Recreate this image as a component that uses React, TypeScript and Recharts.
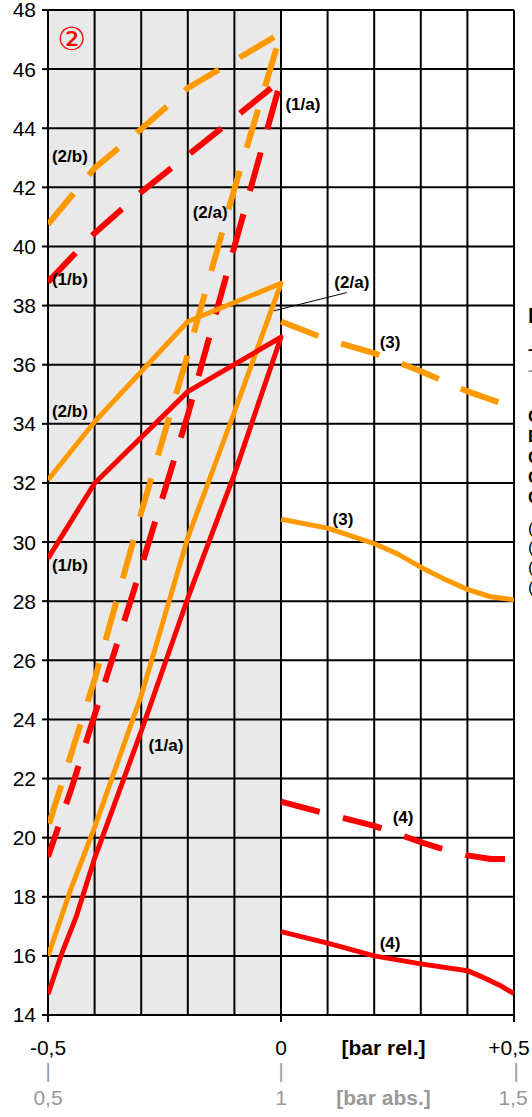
import React from 'react';
import { LineChart, Line, XAxis, YAxis, ReferenceLine, ReferenceArea, ReferenceDot } from 'recharts';

const RED = '#ff0000';
const ORANGE = '#ff9900';
const GRAY_TEXT = '#999999';
const FONT = 'Liberation Sans, Arial, sans-serif';

const yTicks = [14, 16, 18, 20, 22, 24, 26, 28, 30, 32, 34, 36, 38, 40, 42, 44, 46, 48];
const xTicks = [-0.5, 0, 0.5];
const relTickLabels = ['-0,5', '0', '+0,5'];
const absTickLabels = ['0,5', '1', '1,5'];
const xGrid = [-0.5, -0.4, -0.3, -0.2, -0.1, 0, 0.1, 0.2, 0.3, 0.4, 0.5];

// Left half, dashed orange: (2/b) rising, then (2/a) falling
const orangeDashLeftX = [-0.5, -0.4, -0.3, -0.2, -0.1, 0, -0.1, -0.2, -0.3, -0.4, -0.45, -0.5];
const orangeDashLeftY = [40.75, 42.65, 43.97, 45.36, 46.29, 47.22, 41.95, 36.35, 31.0, 25.35, 22.85, 20.35];

// Left half, dashed red: (1/b) rising, then (1/a) falling
const redDashLeftX = [-0.5, -0.4, -0.3, -0.2, -0.1, 0, -0.1, -0.2, -0.3, -0.4, -0.45, -0.5];
const redDashLeftY = [38.8, 40.45, 41.84, 43.09, 44.35, 45.63, 40.0, 34.3, 29.15, 24.15, 21.65, 19.35];

// Left half, solid orange: (2/b) rising, then (2/a) falling
const orangeSolidLeftX = [-0.5, -0.4, -0.2, 0, -0.1, -0.2, -0.3, -0.4, -0.45, -0.5];
const orangeSolidLeftY = [32.1, 34.07, 37.46, 38.75, 34.4, 30.15, 24.8, 20.35, 18.3, 16.0];

// Left half, solid red: (1/b) rising, then (1/a) falling
const redSolidLeftX = [-0.5, -0.4, -0.2, 0, -0.1, -0.2, -0.3, -0.4, -0.44, -0.47, -0.5];
const redSolidLeftY = [29.45, 31.99, 35.09, 36.93, 32.3, 28.1, 23.6, 19.3, 17.3, 16.1, 14.7];

// Right half (3) orange dashed and solid
const orangeDashRightX = [0, 0.1, 0.2, 0.3, 0.4, 0.5];
const orangeDashRightY = [37.46, 36.85, 36.39, 35.78, 35.1, 34.55];
const orangeSolidRightX = [0, 0.1, 0.2, 0.25, 0.3, 0.35, 0.4, 0.45, 0.5];
const orangeSolidRightY = [30.77, 30.47, 29.95, 29.6, 29.15, 28.75, 28.4, 28.15, 28.05];

// Right half (4) red dashed and solid
const redDashRightX = [0, 0.1, 0.2, 0.3, 0.35, 0.4, 0.45, 0.5];
const redDashRightY = [21.22, 20.8, 20.4, 19.85, 19.6, 19.4, 19.28, 19.28];
const redSolidRightX = [0, 0.1, 0.2, 0.3, 0.4, 0.43, 0.47, 0.5];
const redSolidRightY = [16.82, 16.43, 16.0, 15.73, 15.5, 15.3, 15.0, 14.72];

// Curve annotations
const noteTexts = ['(1/a)', '(2/b)', '(2/a)', '(1/b)', '(2/a)', '(3)', '(2/b)', '(3)', '(1/b)', '(1/a)', '(4)', '(4)'];
const noteX = [0.047, -0.453, -0.152, -0.453, 0.152, 0.234, -0.453, 0.133, -0.453, -0.247, 0.262, 0.234];
const noteY = [44.82, 43.06, 41.17, 38.9, 38.8, 36.77, 34.43, 30.78, 29.22, 23.14, 20.7, 16.44];

const leaderX = [-0.016, 0.141];
const leaderY = [37.82, 38.44];

const panelMark = '②';
const panelMarkX = -0.4496;
const panelMarkY = 47.02;

// Text cut off at the right edge of the picture
const edgeTexts = ['I', '–', '–', 'C', 'E', 'C', 'C', 'C', '(', '(', '(', '('];
const edgeTop = [315, 349, 370, 416, 436, 457, 477, 497, 528, 547, 567, 587];

const zip = (xs: number[], ys: number[]) => xs.map((x, i) => ({ x, y: ys[i] }));

const series = [
  { key: 'od', data: zip(orangeDashLeftX, orangeDashLeftY), color: ORANGE, dash: true },
  { key: 'rd', data: zip(redDashLeftX, redDashLeftY), color: RED, dash: true },
  { key: 'os', data: zip(orangeSolidLeftX, orangeSolidLeftY), color: ORANGE, dash: false },
  { key: 'rs', data: zip(redSolidLeftX, redSolidLeftY), color: RED, dash: false },
  { key: 'odr', data: zip(orangeDashRightX, orangeDashRightY), color: ORANGE, dash: true },
  { key: 'osr', data: zip(orangeSolidRightX, orangeSolidRightY), color: ORANGE, dash: false },
  { key: 'rdr', data: zip(redDashRightX, redDashRightY), color: RED, dash: true },
  { key: 'rsr', data: zip(redSolidRightX, redSolidRightY), color: RED, dash: false },
];

const XTick = (props: any) => {
  const { x, y, payload } = props;
  const i = xTicks.indexOf(payload.value);
  const last = i === xTicks.length - 1;
  return (
    <g>
      <text x={last ? x - 5 : x} y={y + 33} textAnchor="middle" fontSize={21} fontFamily={FONT} fill="#000">{relTickLabels[i]}</text>
      <text x={last ? x + 2 : x} y={y + 56} textAnchor="middle" fontSize={20} fontFamily={FONT} fill={GRAY_TEXT}>|</text>
      <text x={last ? x - 1 : x} y={y + 83} textAnchor="middle" fontSize={21} fontFamily={FONT} fill={GRAY_TEXT}>{absTickLabels[i]}</text>
    </g>
  );
};

const AxisTitles = (props: any) => {
  const vb = props.viewBox || { x: 48, y: 1015, width: 466, height: 102 };
  const cx = vb.x + vb.width * 0.72;
  return (
    <g>
      <text x={cx} y={vb.y + 40} textAnchor="middle" fontSize={21} fontWeight="bold" fontFamily={FONT} fill="#000">[bar rel.]</text>
      <text x={cx} y={vb.y + 90} textAnchor="middle" fontSize={21} fontWeight="bold" fontFamily={FONT} fill={GRAY_TEXT}>[bar abs.]</text>
    </g>
  );
};

export default function App() {
  return (
    <div style={{ position: 'absolute', left: 0, top: 0, width: 532, height: 1117, overflow: 'hidden', background: '#fff' }}>
      <LineChart width={532} height={1117} margin={{ top: 10, right: 18, bottom: 0, left: 0 }}>
        <XAxis
          dataKey="x"
          type="number"
          domain={[-0.5, 0.5]}
          ticks={xTicks}
          allowDataOverflow
          axisLine={false}
          tickLine={{ stroke: '#000', strokeWidth: 2 }}
          tickSize={7}
          tickMargin={0}
          height={102}
          tick={<XTick />}
          interval={0}
          label={{ content: <AxisTitles /> }}
        />
        <YAxis
          type="number"
          domain={[14, 48]}
          ticks={yTicks}
          allowDataOverflow
          axisLine={false}
          tickLine={{ stroke: '#000', strokeWidth: 2 }}
          tickSize={6}
          tickMargin={6}
          width={48}
          interval={0}
          tick={{ fill: '#000', fontSize: 21, fontFamily: FONT }}
        />
        <ReferenceArea x1={-0.5} x2={0} y1={14} y2={48} fill="#e9e9e9" fillOpacity={1} stroke="none" />
        {yTicks.map((v) => (
          <ReferenceLine key={'h' + v} y={v} stroke="#000" strokeWidth={2} />
        ))}
        {xGrid.map((v) => (
          <ReferenceLine key={'v' + v} x={v} stroke="#000" strokeWidth={2} />
        ))}
        <ReferenceLine
          segment={[{ x: leaderX[0], y: leaderY[0] }, { x: leaderX[1], y: leaderY[1] }]}
          stroke="#000"
          strokeWidth={1}
        />
        {series.map((s) => (
          <Line
            key={s.key}
            data={s.data}
            dataKey="y"
            type="linear"
            stroke={s.color}
            strokeWidth={s.dash ? 6 : 5}
            strokeDasharray={s.dash ? '40 24' : undefined}
            strokeLinecap="butt"
            strokeLinejoin="round"
            dot={false}
            activeDot={false}
            isAnimationActive={false}
          />
        ))}
        {noteTexts.map((t, i) => (
          <ReferenceDot
            key={'n' + i}
            x={noteX[i]}
            y={noteY[i]}
            r={0}
            shape={(p: any) => (
              <text x={p.cx} y={p.cy + 6} textAnchor="middle" fontSize={17} fontWeight="bold" fontFamily={FONT} fill="#000">{t}</text>
            )}
          />
        ))}
        <ReferenceDot
          x={panelMarkX}
          y={panelMarkY}
          r={0}
          shape={(p: any) => (
            <text x={p.cx} y={p.cy + 11} textAnchor="middle" fontSize={32} fontFamily="DejaVu Sans, sans-serif" fill={RED}>{panelMark}</text>
          )}
        />
      </LineChart>
      <svg width={532} height={1117} style={{ position: 'absolute', left: 0, top: 0, pointerEvents: 'none' }}>
        {edgeTexts.map((t, i) => (
          <text
            key={'e' + i}
            x={528}
            y={edgeTop[i] + (i === 0 ? 8 : 6)}
            fontSize={i === 0 ? 22 : 17}
            fontWeight={i >= 8 ? 'normal' : 'bold'}
            fontFamily={FONT}
            fill={i === 2 ? GRAY_TEXT : '#000'}
          >
            {t}
          </text>
        ))}
      </svg>
    </div>
  );
}
